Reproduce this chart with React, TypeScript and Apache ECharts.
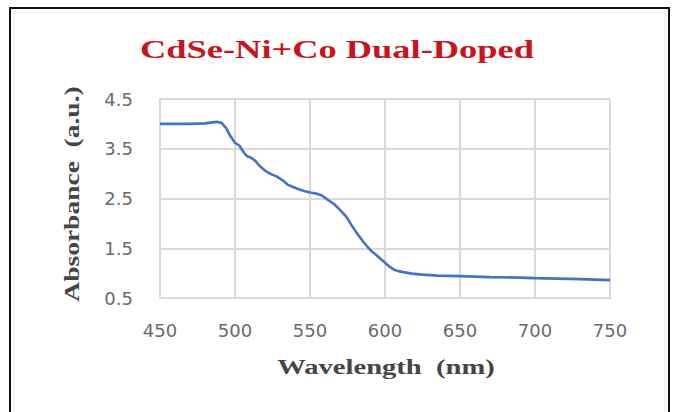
import React, { useEffect, useRef } from "react";
import * as echarts from "echarts";

const titleText = "CdSe-Ni+Co Dual-Doped";
const xAxisTitle = "Wavelength  (nm)";
const yAxisTitle = "Absorbance  (a.u.)";

const wavelength = [
  450, 460, 470, 480, 485, 488, 491, 494, 497, 500, 503, 506, 508, 510, 513, 516, 520, 524, 528,
  532, 535, 538, 542, 546, 550, 554, 558, 562, 566, 570, 574, 578, 582, 585, 588, 591, 594, 597,
  600, 603, 606, 609, 612, 618, 625, 635, 650, 670, 690, 700, 715, 730, 740, 750,
];
const absorbance = [
  4.0, 4.0, 4.0, 4.01, 4.03, 4.04, 4.02, 3.92, 3.75, 3.62, 3.56, 3.42, 3.35, 3.33, 3.27, 3.17,
  3.06, 2.99, 2.94, 2.86, 2.78, 2.74, 2.69, 2.65, 2.62, 2.6, 2.56, 2.47, 2.39, 2.27, 2.14, 1.95,
  1.77, 1.65, 1.54, 1.44, 1.37, 1.29, 1.21, 1.13, 1.07, 1.04, 1.02, 0.99, 0.97, 0.95, 0.94, 0.92,
  0.91, 0.9, 0.89, 0.88, 0.87, 0.86,
];

const xMin = 450;
const xMax = 750;
const xStep = 50;
const yMin = 0.5;
const yMax = 4.5;
const yStep = 1;

export default function App() {
  const ref = useRef<HTMLDivElement>(null);

  useEffect(() => {
    document.body.style.margin = "0";
    if (!ref.current) return;
    const chart = echarts.init(ref.current, undefined, { renderer: "svg" });
    const gridColor = "#d9d9d9";
    const serifBold = {
      fontFamily: "Liberation Serif",
      fontWeight: "bold",
      textAlign: "center",
      textVerticalAlign: "middle",
    };
    chart.setOption({
      animation: false,
      backgroundColor: "#ffffff",
      grid: { left: 160, right: 63, top: 99, bottom: 114, containLabel: false },
      xAxis: {
        type: "value",
        min: xMin,
        max: xMax,
        interval: xStep,
        axisLine: { show: true, lineStyle: { color: gridColor, width: 2 } },
        axisTick: { show: false },
        axisLabel: {
          margin: 23,
          fontFamily: "DejaVu Sans",
          fontSize: 18,
          color: "#6a6a6a",
        },
        splitLine: { show: true, lineStyle: { color: gridColor, width: 2 } },
      },
      yAxis: {
        type: "value",
        min: yMin,
        max: yMax,
        interval: yStep,
        axisLine: { show: true, lineStyle: { color: gridColor, width: 2 } },
        axisTick: { show: false },
        axisLabel: {
          margin: 27,
          fontFamily: "DejaVu Sans",
          fontSize: 18,
          color: "#6a6a6a",
          formatter: (v: number) => v.toFixed(1),
        },
        splitLine: { show: true, lineStyle: { color: gridColor, width: 2 } },
      },
      series: [
        {
          type: "line",
          data: wavelength.map((w, i) => [w, absorbance[i]]),
          showSymbol: false,
          smooth: false,
          lineStyle: { color: "#4472c4", width: 2.6 },
          itemStyle: { color: "#4472c4" },
        },
      ],
      graphic: [
        {
          type: "rect",
          shape: { x: 14, y: 12, width: 651, height: 420 },
          style: { fill: "none", stroke: "#e8e8e8", lineWidth: 1 },
          silent: true,
        },
        {
          type: "polyline",
          shape: { points: [[10, 420], [10, 8], [669, 8], [669, 420]] },
          style: { fill: "none", stroke: "#111111", lineWidth: 2 },
          silent: true,
        },
        {
          type: "text",
          x: 337,
          y: 49,
          scaleX: 1.4,
          style: { ...serifBold, text: titleText, fontSize: 26, fill: "#c8141c" },
          silent: true,
        },
        {
          type: "text",
          x: 386,
          y: 367,
          scaleX: 1.3,
          style: { ...serifBold, text: xAxisTitle, fontSize: 22, fill: "#454545" },
          silent: true,
        },
        {
          type: "text",
          x: 71,
          y: 194,
          rotation: Math.PI / 2,
          scaleX: 1.25,
          style: { ...serifBold, text: yAxisTitle, fontSize: 22, fill: "#454545" },
          silent: true,
        },
      ],
    });
    return () => chart.dispose();
  }, []);

  return <div ref={ref} style={{ width: 673, height: 412, position: "absolute", left: 0, top: 0 }} />;
}
